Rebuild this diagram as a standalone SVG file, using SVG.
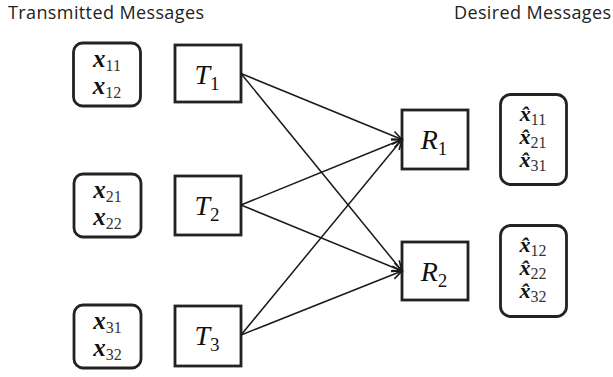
<svg xmlns="http://www.w3.org/2000/svg" width="613" height="377" viewBox="0 0 613 377">
<defs>
<marker id="arr" markerUnits="userSpaceOnUse" markerWidth="14" markerHeight="12" refX="11" refY="5" orient="auto">
<path d="M1,0.5 L11,5 L1,9.5" fill="none" stroke="#1a1a1a" stroke-width="1.6"/>
</marker>
</defs>
<style>
.hdr{font-family:"Open Sans","Liberation Sans",sans-serif;font-size:18px;fill:#222}
.box{fill:#fff;stroke:#222;stroke-width:2.8}
.msg{fill:#fff;stroke:#222;stroke-width:2.8}
.lbl{font-family:"Liberation Serif",serif;font-style:italic;font-size:28px;fill:#111}
.var{font-family:"Liberation Serif",serif;font-style:italic;font-weight:bold;font-size:25px;fill:#111}
.hv{font-size:22px}
.sub{font-style:normal;font-weight:normal;font-size:16px;fill:#333}
.lsub{font-style:normal;font-size:19px}
.edge{stroke:#1a1a1a;stroke-width:1.5;fill:none;marker-end:url(#arr)}
</style>
<text class="hdr" x="8" y="19" textLength="196">Transmitted Messages</text>
<text class="hdr" x="454" y="19" textLength="157">Desired Messages</text>

<g id="msg1"><rect class="msg" x="73.5" y="43" width="67" height="63" rx="9"/>
<text class="var" x="107" y="67" text-anchor="middle">x<tspan class="sub" dy="4">11</tspan></text>
<text class="var" x="107" y="94" text-anchor="middle">x<tspan class="sub" dy="4">12</tspan></text></g>
<g id="msg2"><rect class="msg" x="74" y="174" width="67" height="63" rx="9"/>
<text class="var" x="107.5" y="198" text-anchor="middle">x<tspan class="sub" dy="4">21</tspan></text>
<text class="var" x="107.5" y="225" text-anchor="middle">x<tspan class="sub" dy="4">22</tspan></text></g>
<g id="msg3"><rect class="msg" x="74" y="305" width="67" height="63" rx="9"/>
<text class="var" x="107.5" y="329" text-anchor="middle">x<tspan class="sub" dy="4">31</tspan></text>
<text class="var" x="107.5" y="356" text-anchor="middle">x<tspan class="sub" dy="4">32</tspan></text></g>

<g id="T1"><rect class="box" x="175" y="45" width="66" height="57"/>
<text class="lbl" x="207" y="84" text-anchor="middle">T<tspan class="lsub" dy="6">1</tspan></text></g>
<g id="T2"><rect class="box" x="175" y="176" width="66" height="59"/>
<text class="lbl" x="207" y="215" text-anchor="middle">T<tspan class="lsub" dy="6">2</tspan></text></g>
<g id="T3"><rect class="box" x="175" y="306" width="66" height="60"/>
<text class="lbl" x="207" y="345" text-anchor="middle">T<tspan class="lsub" dy="6">3</tspan></text></g>

<g id="R1"><rect class="box" x="402" y="110" width="66" height="59"/>
<text class="lbl" x="434" y="149" text-anchor="middle">R<tspan class="lsub" dy="6">1</tspan></text></g>
<g id="R2"><rect class="box" x="402" y="242" width="66" height="58"/>
<text class="lbl" x="434" y="281" text-anchor="middle">R<tspan class="lsub" dy="6">2</tspan></text></g>

<g id="dmsg1"><rect class="msg" x="500.5" y="94.5" width="66" height="90" rx="10"/>
<text class="var hv" x="533" y="121" text-anchor="middle">x̂<tspan class="sub" dy="4">11</tspan></text>
<text class="var hv" x="533" y="144" text-anchor="middle">x̂<tspan class="sub" dy="4">21</tspan></text>
<text class="var hv" x="533" y="167" text-anchor="middle">x̂<tspan class="sub" dy="4">31</tspan></text></g>
<g id="dmsg2"><rect class="msg" x="500.5" y="225.5" width="66" height="91" rx="10"/>
<text class="var hv" x="533" y="252" text-anchor="middle">x̂<tspan class="sub" dy="4">12</tspan></text>
<text class="var hv" x="533" y="275" text-anchor="middle">x̂<tspan class="sub" dy="4">22</tspan></text>
<text class="var hv" x="533" y="298" text-anchor="middle">x̂<tspan class="sub" dy="4">32</tspan></text></g>

<g id="connectors">
<line class="edge" x1="241" y1="73.5" x2="402" y2="139.5"/>
<line class="edge" x1="241" y1="73.5" x2="402" y2="271"/>
<line class="edge" x1="241" y1="205" x2="402" y2="139.5"/>
<line class="edge" x1="241" y1="205" x2="402" y2="271"/>
<line class="edge" x1="241" y1="335" x2="402" y2="139.5"/>
<line class="edge" x1="241" y1="335" x2="402" y2="271"/>
</g>
</svg>
